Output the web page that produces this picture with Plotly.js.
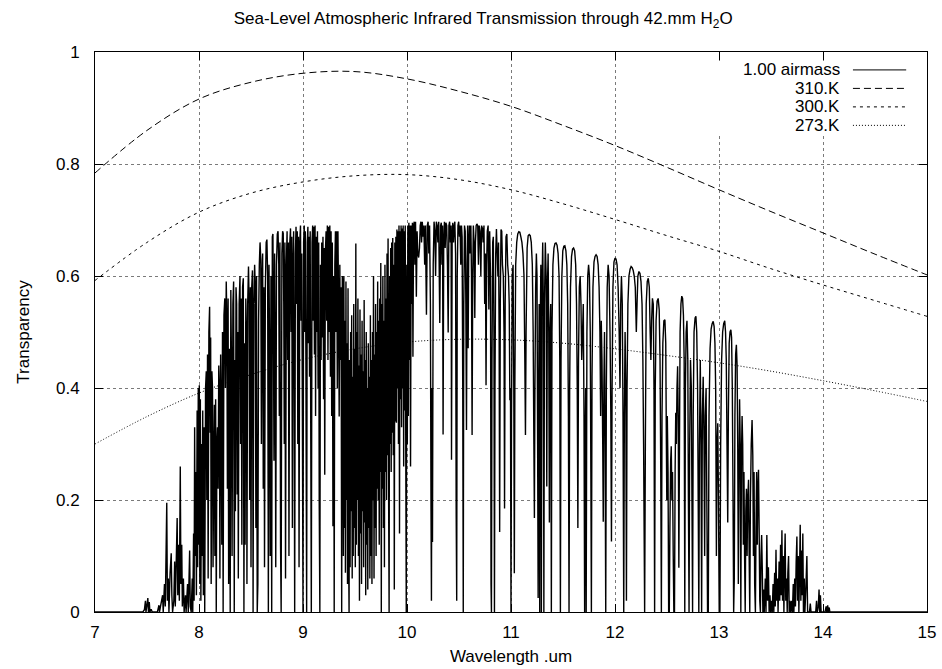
<!DOCTYPE html>
<html>
<head>
<meta charset="utf-8">
<script src="https://cdn.plot.ly/plotly-3.0.1.min.js"></script>
<style>html,body{margin:0;padding:0;background:#fff;}#chart{width:942px;height:669px;}</style>
</head>
<body>
<div id="chart"></div>
<script>
// ---- Blackbody reference curves ----
const bbWavelength = [7,7.5,8,8.5,9,9.5,10,10.5,11,11.5,12,12.5,13,13.5,14,14.5,15];
const bb310K = [0.784,0.860,0.916,0.946,0.962,0.965,0.952,0.930,0.903,0.869,0.833,0.794,0.754,0.715,0.677,0.639,0.602];
const bb300K = [0.592,0.660,0.714,0.748,0.768,0.779,0.781,0.772,0.754,0.729,0.701,0.672,0.644,0.613,0.584,0.556,0.528];
const bb273K = [0.300,0.349,0.391,0.424,0.451,0.470,0.482,0.487,0.486,0.480,0.470,0.458,0.445,0.430,0.413,0.395,0.376];

// ---- 1.00 airmass transmission spectrum, [wavelength um, transparency] ----
const specOnset = [[7.00,0],[7.46,0],[7.475,0.004],[7.485,0.02],[7.49,0],[7.50,0.013],[7.508,0.025],[7.514,0],[7.522,0.018],[7.528,0],[7.54,0.005],[7.55,0],[7.60,0],[7.615,0.012],[7.62,0],[7.65,0.03],[7.656,0],[7.668,0.05],[7.676,0.01],[7.69,0.195],[7.696,0.02],[7.705,0.06],[7.711,0],[7.722,0.07],[7.733,0.105],[7.739,0.03],[7.746,0],[7.758,0.02],[7.766,0.09],[7.772,0.01],[7.79,0.168],[7.796,0.03],[7.805,0.12],[7.811,0.02],[7.82,0.26],[7.826,0.05],[7.834,0.12],[7.84,0.01],[7.85,0.06],[7.857,0],[7.87,0.03],[7.876,0],[7.89,0.05],[7.897,0.0],[7.91,0.11],[7.916,0.01],[7.925,0.0],[7.935,0.06],[7.94,0],[7.948,0.14],[7.953,0.02],[7.958,0.33],[7.963,0.10],[7.97,0.25],[7.975,0.03],[7.982,0.36],[7.987,0.08],[7.993,0.40],[7.998,0.12]];

const specBand8 = [[8.003,0.405],[8.008,0.05],[8.013,0.38],[8.018,0.02],[8.025,0.30],[8.03,0.10],[8.036,0.36],[8.042,0.03],[8.05,0.33],[8.055,0.0],[8.063,0.40],[8.07,0.43],[8.075,0.20],[8.082,0.46],[8.088,0.06],[8.095,0.50],[8.102,0.545],[8.107,0.32],[8.112,0.49],[8.117,0.05],[8.124,0.43],[8.13,0.40],[8.135,0.08],[8.142,0.28],[8.148,0.37],[8.153,0.10],[8.16,0.38],[8.166,0.0],[8.172,0.30],[8.178,0.33],[8.184,0.22],[8.19,0.44],[8.196,0.40],[8.201,0.06],[8.208,0.46],[8.214,0.36],[8.219,0.12],[8.226,0.50],[8.232,0.0],[8.24,0.53],[8.248,0.56],[8.254,0.40],[8.262,0.59],[8.268,0.52],[8.273,0.22],[8.28,0.56],[8.285,0.05],[8.292,0.47],[8.3,0.0],[8.306,0.575],[8.312,0.45],[8.318,0.10],[8.326,0.55],[8.333,0.59],[8.339,0.0],[8.344,0.45],[8.35,0.18],[8.356,0.58],[8.362,0.55],[8.367,0.21],[8.373,0.50],[8.378,0.06],[8.386,0.55],[8.394,0.60],[8.4,0.30],[8.406,0.56],[8.412,0.12],[8.419,0.58],[8.426,0.596],[8.432,0.0],[8.438,0.48],[8.443,0.12],[8.45,0.56],[8.456,0.50],[8.461,0.05],[8.468,0.55],[8.476,0.617],[8.482,0.55],[8.487,0.20],[8.494,0.58],[8.5,0.08],[8.507,0.58],[8.514,0.61],[8.52,0.0],[8.527,0.55],[8.535,0.62],[8.541,0.58],[8.547,0.15],[8.553,0.60],[8.56,0.0],[8.566,0.05],[8.573,0.52],[8.58,0.62],[8.587,0.66],[8.594,0.63],[8.6,0.30],[8.606,0.60],[8.612,0.64],[8.618,0.22],[8.624,0.58],[8.63,0.08],[8.638,0.58],[8.646,0.66],[8.653,0.665],[8.66,0.60],[8.667,0.0],[8.673,0.62],[8.679,0.45],[8.685,0.10],[8.692,0.60],[8.699,0.0],[8.705,0.67],[8.711,0.675],[8.716,0.50],[8.721,0.27],[8.727,0.64],[8.733,0.45],[8.738,0.08],[8.745,0.62],[8.753,0.675],[8.76,0.68],[8.767,0.62],[8.772,0.35],[8.778,0.66],[8.784,0.12],[8.79,0.0],[8.797,0.64],[8.804,0.68],[8.81,0.676],[8.815,0.55],[8.82,0.30],[8.826,0.66],[8.832,0.06],[8.84,0.62],[8.847,0.68],[8.853,0.45],[8.859,0.66],[8.865,0.10],[8.873,0.66],[8.88,0.685],[8.886,0.50],[8.892,0.67],[8.898,0.15],[8.904,0.62],[8.91,0.68],[8.915,0.40],[8.92,0.0],[8.927,0.64],[8.933,0.688],[8.939,0.55],[8.945,0.68],[8.95,0.30],[8.956,0.67],[8.962,0.08],[8.969,0.66],[8.976,0.69],[8.982,0.52],[8.988,0.64],[8.994,0.35]];

const specBand9 = [[9.0,0.0],[9.006,0.66],[9.012,0.69],[9.017,0.50],[9.022,0.68],[9.028,0.45],[9.035,0.0],[9.041,0.66],[9.047,0.688],[9.052,0.48],[9.057,0.67],[9.063,0.42],[9.069,0.68],[9.075,0.30],[9.08,0.0],[9.087,0.66],[9.093,0.69],[9.098,0.52],[9.104,0.688],[9.11,0.46],[9.116,0.69],[9.121,0.35],[9.127,0.67],[9.133,0.50],[9.139,0.68],[9.145,0.40],[9.151,0.66],[9.156,0.20],[9.162,0.0],[9.168,0.62],[9.174,0.45],[9.18,0.66],[9.186,0.49],[9.192,0.67],[9.198,0.38],[9.204,0.65],[9.209,0.245],[9.215,0.64],[9.222,0.68],[9.228,0.52],[9.234,0.69],[9.24,0.45],[9.246,0.688],[9.252,0.50],[9.258,0.69],[9.264,0.42],[9.27,0.68],[9.276,0.35],[9.282,0.66],[9.288,0.153],[9.294,0.60],[9.3,0.0],[9.306,0.62],[9.312,0.68],[9.318,0.50],[9.324,0.68],[9.33,0.40],[9.336,0.68],[9.342,0.55],[9.348,0.349],[9.354,0.62],[9.36,0.45],[9.366,0.58],[9.372,0.0],[9.378,0.60],
[9.383,0.58],[9.388,0.10],[9.393,0.60],[9.398,0.15],[9.403,0.52],[9.408,0.07],[9.413,0.59],[9.418,0.20],[9.423,0.48],[9.428,0.05],[9.433,0.578],[9.438,0.12],[9.443,0.0],[9.448,0.45],[9.453,0.08],[9.458,0.50],[9.463,0.18],[9.468,0.53],[9.473,0.06],[9.478,0.42],[9.483,0.10],[9.488,0.55],[9.493,0.15],[9.498,0.47],[9.503,0.08],[9.508,0.658],[9.513,0.12],[9.518,0.50],[9.523,0.20],[9.528,0.56],[9.533,0.10],[9.538,0.44],[9.543,0.02],[9.548,0.54],[9.553,0.14],[9.558,0.46],[9.563,0.05],[9.568,0.52],[9.573,0.18],[9.578,0.43],[9.583,0.08],[9.588,0.557],[9.593,0.16],[9.598,0.45],[9.603,0.03],[9.608,0.50],[9.613,0.12],[9.618,0.40],[9.623,0.04],[9.628,0.48],[9.633,0.15],[9.638,0.42],[9.643,0.06],[9.648,0.53],[9.653,0.10],[9.658,0.45],[9.663,0.05],[9.668,0.50],[9.673,0.20],[9.678,0.60],[9.683,0.06],[9.688,0.46],[9.693,0.15],[9.698,0.55],[9.703,0.10],[9.708,0.50],[9.713,0.22],[9.718,0.59],[9.723,0.20],[9.728,0.52],[9.733,0.12],[9.738,0.56],[9.743,0.25],[9.748,0.623],[9.753,0.0],[9.758,0.55],[9.763,0.22],[9.768,0.60],[9.773,0.15],[9.778,0.52],[9.783,0.08],[9.788,0.62],[9.793,0.25],[9.798,0.56],[9.803,0.20],[9.808,0.64],[9.813,0.28],[9.818,0.667],[9.823,0.22],[9.828,0.0],[9.833,0.60],[9.838,0.30],[9.843,0.65],[9.848,0.25],[9.853,0.66],[9.858,0.32],[9.863,0.668],[9.868,0.28],[9.873,0.62],[9.878,0.04],[9.883,0.66],[9.888,0.34],[9.893,0.67],[9.898,0.338],[9.903,0.683],[9.908,0.40],[9.913,0.68],[9.918,0.30],[9.923,0.69],[9.928,0.14],[9.933,0.68],[9.938,0.38],[9.943,0.69],[9.948,0.33],[9.953,0.685],[9.958,0.40],[9.963,0.69],[9.968,0.26],[9.973,0.68],[9.978,0.36],[9.983,0.69],[9.988,0.30],[9.993,0.0],[9.998,0.62]];

const specBand10 = [[10.003,0.30],[10.008,0.69],[10.013,0.35],[10.018,0.695],[10.023,0.45],[10.028,0.69],[10.034,0.26],[10.04,0.69],[10.046,0.55],[10.052,0.695],[10.057,0.456],[10.063,0.69],[10.07,0.697],[10.076,0.62],[10.082,0.697],[10.09,0.563],[10.097,0.68],[10.104,0.64],[10.112,0.633],[10.12,0.65],[10.127,0.69],[10.134,0.697],[10.14,0.66],[10.147,0.697],[10.155,0.67],[10.162,0.69],[10.17,0.62],[10.177,0.69],[10.187,0.531],[10.195,0.69],[10.203,0.697],[10.21,0.64],[10.217,0.69],[10.225,0.55],[10.231,0.18],[10.235,0.02],[10.24,0.40],[10.245,0.125],[10.252,0.62],[10.26,0.697],[10.268,0.68],[10.275,0.60],[10.282,0.697],[10.29,0.69],[10.297,0.66],[10.305,0.697],[10.315,0.516],[10.323,0.69],[10.33,0.695],[10.336,0.62],[10.342,0.69],[10.347,0.317],[10.353,0.66],[10.36,0.697],[10.367,0.65],[10.374,0.695],[10.382,0.69],[10.389,0.62],[10.396,0.499],[10.403,0.69],[10.41,0.697],[10.417,0.66],[10.424,0.69],[10.428,0.272],[10.434,0.66],[10.44,0.695],[10.447,0.66],[10.454,0.69],[10.46,0.697],[10.467,0.64],[10.473,0.174],[10.478,0.02],[10.483,0.60],[10.49,0.69],[10.497,0.697],[10.504,0.67],[10.51,0.69],[10.517,0.62],[10.524,0.69],[10.53,0.67],[10.536,0.40],[10.541,0.0],[10.546,0.55],[10.553,0.69],[10.56,0.68],[10.566,0.55],[10.572,0.325],[10.578,0.62],[10.583,0.69],[10.588,0.471],[10.594,0.66],[10.6,0.69],[10.607,0.64],[10.614,0.69],[10.62,0.60],[10.626,0.316],[10.632,0.60],[10.638,0.69],[10.645,0.66],[10.652,0.525],[10.658,0.66],[10.665,0.69],[10.672,0.693],[10.68,0.69],[10.687,0.62],[10.694,0.69],[10.702,0.68],[10.71,0.60],[10.717,0.69],[10.725,0.685],[10.732,0.66],[10.74,0.69],[10.747,0.55],[10.754,0.64],[10.76,0.405],[10.766,0.62],[10.772,0.68],[10.78,0.69],[10.787,0.54],[10.795,0.68],[10.803,0.60],[10.808,0.05],[10.812,0.0],[10.817,0.45],[10.824,0.66],[10.83,0.67],[10.836,0.50],[10.841,0.0],[10.846,0.40],[10.853,0.64],[10.86,0.684],[10.867,0.64],[10.874,0.60],[10.88,0.66],[10.886,0.50],[10.891,0.143],[10.897,0.55],[10.904,0.683],[10.911,0.68],[10.918,0.62],[10.926,0.60],[10.933,0.50],[10.938,0.185],[10.944,0.55],[10.952,0.67],[10.96,0.675],[10.968,0.62],[10.976,0.60],[10.983,0.55],[10.989,0.378],[10.995,0.40],[11.0,0.0]];

const specBand11 = [[11.005,0.35],[11.012,0.60],[11.02,0.62],[11.027,0.40],[11.032,0.069],[11.037,0.40],[11.045,0.62],[11.055,0.66],[11.065,0.675],[11.075,0.679],[11.085,0.678],[11.095,0.67],[11.105,0.66],[11.115,0.64],[11.125,0.60],[11.133,0.45],[11.139,0.316],[11.145,0.50],[11.155,0.65],[11.165,0.672],[11.175,0.674],[11.185,0.672],[11.195,0.66],[11.205,0.62],[11.213,0.50],[11.22,0.30],[11.225,0.168],[11.23,0.40],[11.237,0.58],[11.244,0.64],[11.25,0.60],[11.256,0.30],[11.261,0.025],[11.266,0.40],[11.271,0.55],[11.276,0.0],[11.281,0.50],[11.287,0.62],[11.292,0.0],[11.298,0.58],[11.305,0.66],[11.311,0.55],[11.316,0.0],[11.322,0.55],[11.33,0.66],[11.338,0.60],[11.344,0.224],[11.35,0.58],[11.357,0.64],[11.363,0.50],[11.369,0.16],[11.375,0.50],[11.382,0.55],[11.388,0.0],[11.394,0.50],[11.403,0.62],[11.413,0.65],[11.423,0.658],[11.433,0.659],[11.443,0.655],[11.453,0.64],[11.462,0.60],[11.469,0.45],[11.475,0.0],[11.481,0.45],[11.489,0.60],[11.498,0.645],[11.508,0.653],[11.518,0.654],[11.528,0.645],[11.537,0.62],[11.545,0.55],[11.552,0.35],[11.558,0.0],[11.564,0.40],[11.572,0.58],[11.582,0.635],[11.592,0.648],[11.602,0.65],[11.612,0.645],[11.622,0.62],[11.63,0.55],[11.637,0.40],[11.643,0.15],[11.649,0.45],[11.657,0.58],[11.665,0.60],[11.673,0.55],[11.68,0.45],[11.688,0.50],[11.695,0.55],[11.702,0.35],[11.708,0.0],[11.713,0.30],[11.718,0.40],[11.723,0.0],[11.73,0.50],[11.738,0.60],[11.746,0.62],[11.754,0.60],[11.762,0.50],[11.768,0.25],[11.773,0.0],[11.779,0.42],[11.788,0.58],[11.798,0.625],[11.808,0.635],[11.818,0.638],[11.828,0.635],[11.838,0.62],[11.847,0.58],[11.855,0.50],[11.862,0.35],[11.868,0.52],[11.875,0.45],[11.882,0.30],[11.887,0.161],[11.893,0.40],[11.899,0.50],[11.905,0.30],[11.911,0.0],[11.917,0.40],[11.925,0.58],[11.934,0.62],[11.943,0.60],[11.952,0.50],[11.96,0.35],[11.966,0.126],[11.972,0.40],[11.98,0.58],[11.99,0.625],[12.0,0.632],[12.01,0.63],[12.02,0.62],[12.03,0.58],[12.04,0.50],[12.048,0.40],[12.055,0.55],[12.062,0.60],[12.07,0.55],[12.077,0.35],[12.084,0.0],[12.09,0.35],[12.097,0.50],[12.104,0.40],[12.11,0.02],[12.116,0.40],[12.124,0.55],[12.134,0.60],[12.145,0.612],[12.155,0.617],[12.165,0.615],[12.175,0.61],[12.185,0.60],[12.195,0.58],[12.205,0.50],[12.212,0.55],[12.22,0.60],[12.23,0.608],[12.24,0.605],[12.25,0.59],[12.26,0.55],[12.268,0.45],[12.275,0.30],[12.28,0.15],[12.285,0.0]];

const specBand12 = [[12.292,0.30],[12.3,0.55],[12.31,0.59],[12.32,0.596],[12.33,0.58],[12.338,0.50],[12.345,0.45],[12.352,0.52],[12.36,0.56],[12.368,0.55],[12.375,0.40],[12.381,0.0],[12.387,0.40],[12.395,0.52],[12.405,0.555],[12.415,0.56],[12.425,0.54],[12.433,0.45],[12.44,0.25],[12.446,0.0],[12.452,0.35],[12.46,0.48],[12.47,0.52],[12.48,0.522],[12.488,0.48],[12.494,0.30],[12.498,0.20],[12.503,0.35],[12.51,0.25],[12.516,0.0],[12.522,0.0],[12.528,0.15],[12.535,0.27],[12.541,0.296],[12.547,0.20],[12.553,0.25],[12.56,0.10],[12.566,0.0],[12.572,0.0],[12.578,0.25],[12.584,0.356],[12.59,0.30],[12.596,0.40],[12.602,0.439],[12.608,0.35],[12.614,0.079],[12.62,0.30],[12.626,0.50],[12.634,0.55],[12.642,0.564],[12.65,0.56],[12.658,0.53],[12.665,0.45],[12.671,0.0],[12.677,0.40],[12.684,0.50],[12.692,0.52],[12.7,0.45],[12.706,0.20],[12.712,0.0],[12.718,0.30],[12.726,0.45],[12.734,0.40],[12.74,0.20],[12.746,0.0],[12.752,0.35],[12.76,0.50],[12.77,0.525],[12.778,0.528],[12.786,0.50],[12.794,0.40],[12.8,0.20],[12.806,0.0],[12.812,0.30],[12.82,0.45],[12.827,0.30],[12.833,0.0],[12.84,0.35],[12.848,0.42],[12.856,0.30],[12.862,0.10],[12.868,0.35],[12.876,0.40],[12.883,0.20],[12.89,0.0],[12.897,0.0],[12.904,0.35],[12.914,0.47],[12.924,0.505],[12.934,0.515],[12.944,0.519],[12.953,0.51],[12.961,0.48],[12.968,0.40],[12.975,0.10],[12.981,0.30],[12.988,0.337],[12.995,0.20],[13.002,0.0],[13.009,0.0],[13.016,0.30],[13.025,0.45],[13.035,0.50],[13.045,0.515],[13.055,0.52],[13.063,0.50],[13.07,0.45],[13.077,0.30],[13.084,0.16],[13.09,0.35],[13.098,0.48],[13.106,0.50],[13.114,0.504],[13.121,0.49],[13.128,0.40],[13.135,0.20],[13.141,0.0],[13.147,0.06],[13.153,0.35],[13.16,0.46],[13.167,0.477],[13.174,0.44],[13.18,0.30],[13.186,0.05],[13.192,0.25],[13.198,0.38],[13.204,0.30],[13.21,0.0],[13.216,0.28],[13.222,0.35],[13.228,0.30],[13.234,0.12],[13.24,0.25],[13.246,0.10],[13.252,0.0],[13.258,0.18],[13.264,0.22],[13.27,0.10],[13.276,0.20],[13.284,0.236],[13.29,0.10],[13.296,0.0],[13.302,0.20],[13.31,0.30],[13.318,0.343],[13.325,0.28],[13.331,0.10],[13.337,0.25],[13.343,0.05],[13.35,0.0],[13.356,0.15],[13.362,0.25],[13.368,0.12],[13.374,0.22],[13.38,0.254],[13.386,0.15],[13.392,0.02],[13.398,0.0],[13.404,0.10],[13.41,0.1375],[13.416,0.08],[13.422,0.0],[13.428,0.04]];

const specTail = [[13.435,0.0],[13.445,0.06],[13.452,0.0],[13.46,0.1375],[13.467,0.02],[13.475,0.08],[13.482,0.0],[13.49,0.03],[13.497,0.0],[13.505,0.02],[13.512,0.0],[13.52,0.05],[13.527,0.0],[13.535,0.07],[13.541,0.01],[13.548,0.111],[13.554,0.02],[13.562,0.06],[13.568,0.0],[13.578,0.09],[13.584,0.02],[13.592,0.12],[13.598,0.03],[13.605,0.146],[13.611,0.02],[13.618,0.10],[13.624,0.0],[13.63,0.08],[13.636,0.14],[13.642,0.02],[13.65,0.06],[13.656,0.0],[13.662,0.07],[13.669,0.10],[13.675,0.0],[13.684,0.02],[13.69,0.0],[13.7,0.02],[13.706,0.0],[13.714,0.05],[13.72,0.0],[13.728,0.06],[13.735,0.01],[13.742,0.09],[13.749,0.135],[13.755,0.02],[13.762,0.10],[13.768,0.0],[13.775,0.08],[13.781,0.156],[13.787,0.02],[13.794,0.11],[13.8,0.03],[13.806,0.14],[13.812,0.0],[13.82,0.06],[13.826,0.0],[13.835,0.04],[13.845,0.10],[13.852,0.0],[13.87,0.0],[13.878,0.015],[13.885,0.0],[13.93,0.0],[13.938,0.02],[13.945,0.0],[13.955,0.01],[13.962,0.04],[13.968,0.0],[13.975,0.03],[13.982,0.0],[14.02,0.0],[14.03,0.01],[14.036,0.0],[14.045,0.012],[14.05,0.0],[14.06,0.008],[14.066,0.0],[15.0,0.0]];

const seriesNames = ['1.00 airmass','310.K','300.K','273.K'];
const axisTicksX = [7,8,9,10,11,12,13,14,15];
const axisTicksY = [0,0.2,0.4,0.6,0.8,1];

const spectrum = [].concat(specOnset, specBand8, specBand9, specBand10, specBand11, specBand12, specTail);
const specX = spectrum.map(p => p[0]);
const specY = spectrum.map(p => p[1]);

const FONT = 'Liberation Sans, Arial, Helvetica, sans-serif';
const FS = 17;
const dashes = ['solid', '7px,4px', '3px,4px', '1px,2px'];

const traces = [
  {x: specX, y: specY, name: seriesNames[0], type: 'scatter', mode: 'lines',
   line: {color: '#000', width: 1.4, simplify: false}, hoverinfo: 'x+y'},
  {x: bbWavelength, y: bb310K, name: seriesNames[1], type: 'scatter', mode: 'lines',
   line: {color: '#000', width: 1, dash: dashes[1], shape: 'spline'}},
  {x: bbWavelength, y: bb300K, name: seriesNames[2], type: 'scatter', mode: 'lines',
   line: {color: '#000', width: 1, dash: dashes[2], shape: 'spline'}},
  {x: bbWavelength, y: bb273K, name: seriesNames[3], type: 'scatter', mode: 'lines',
   line: {color: '#000', width: 1, dash: dashes[3], shape: 'spline'}}
];

// manual gnuplot-style key: text right-aligned, sample line to the right
const keyRowsY = [0.968, 0.935, 0.902, 0.869];
const annotations = seriesNames.map((n, i) => ({
  xref: 'paper', yref: 'paper', x: 0.897, y: keyRowsY[i], xanchor: 'right', yanchor: 'middle',
  text: n, showarrow: false, height: 17, borderpad: 0, valign: 'middle',
  font: {family: FONT, size: FS, color: '#000'}
}));
const shapes = [{type: 'rect', xref: 'paper', yref: 'paper', x0: 0.70, x1: 0.997, y0: 0.853, y1: 0.984,
  fillcolor: '#fff', line: {width: 0}, layer: 'above'}];
seriesNames.forEach((n, i) => shapes.push({
  type: 'line', xref: 'paper', yref: 'paper', x0: 0.911, x1: 0.975, y0: keyRowsY[i], y1: keyRowsY[i],
  line: {color: '#000', width: 1, dash: dashes[i]}, layer: 'above'
}));

const axisCommon = {
  showline: true, linecolor: '#000', linewidth: 1, mirror: 'ticks',
  ticks: 'inside', ticklen: 8, tickwidth: 1, tickcolor: '#000',
  showgrid: true, gridcolor: '#7a7a7a', gridwidth: 1, griddash: 'dot',
  zeroline: false, tickfont: {family: FONT, size: FS, color: '#000'}
};

const layout = {
  width: 942, height: 669,
  margin: {l: 95, r: 15, t: 52, b: 57, pad: 0},
  paper_bgcolor: '#fff', plot_bgcolor: '#fff',
  showlegend: false,
  title: {text: 'Sea-Level Atmospheric Infrared Transmission through 42.mm H<sub>2</sub>O',
          font: {family: FONT, size: FS, color: '#000'},
          x: 0.513, xref: 'container', xanchor: 'center', y: 0.973, yref: 'container', yanchor: 'middle'},
  xaxis: Object.assign({}, axisCommon, {range: [7, 15], tickvals: axisTicksX, ticklabelstandoff: 5,
          title: {text: 'Wavelength .um', font: {family: FONT, size: FS, color: '#000'}, standoff: 8}}),
  yaxis: Object.assign({}, axisCommon, {range: [0, 1], tickvals: axisTicksY, ticklabelstandoff: 11,
          title: {text: 'Transparency', font: {family: FONT, size: FS, color: '#000'}, standoff: 22}}),
  annotations: annotations,
  shapes: shapes
};

Plotly.newPlot('chart', traces, layout, {staticPlot: true, displayModeBar: false});
</script>
</body>
</html>
